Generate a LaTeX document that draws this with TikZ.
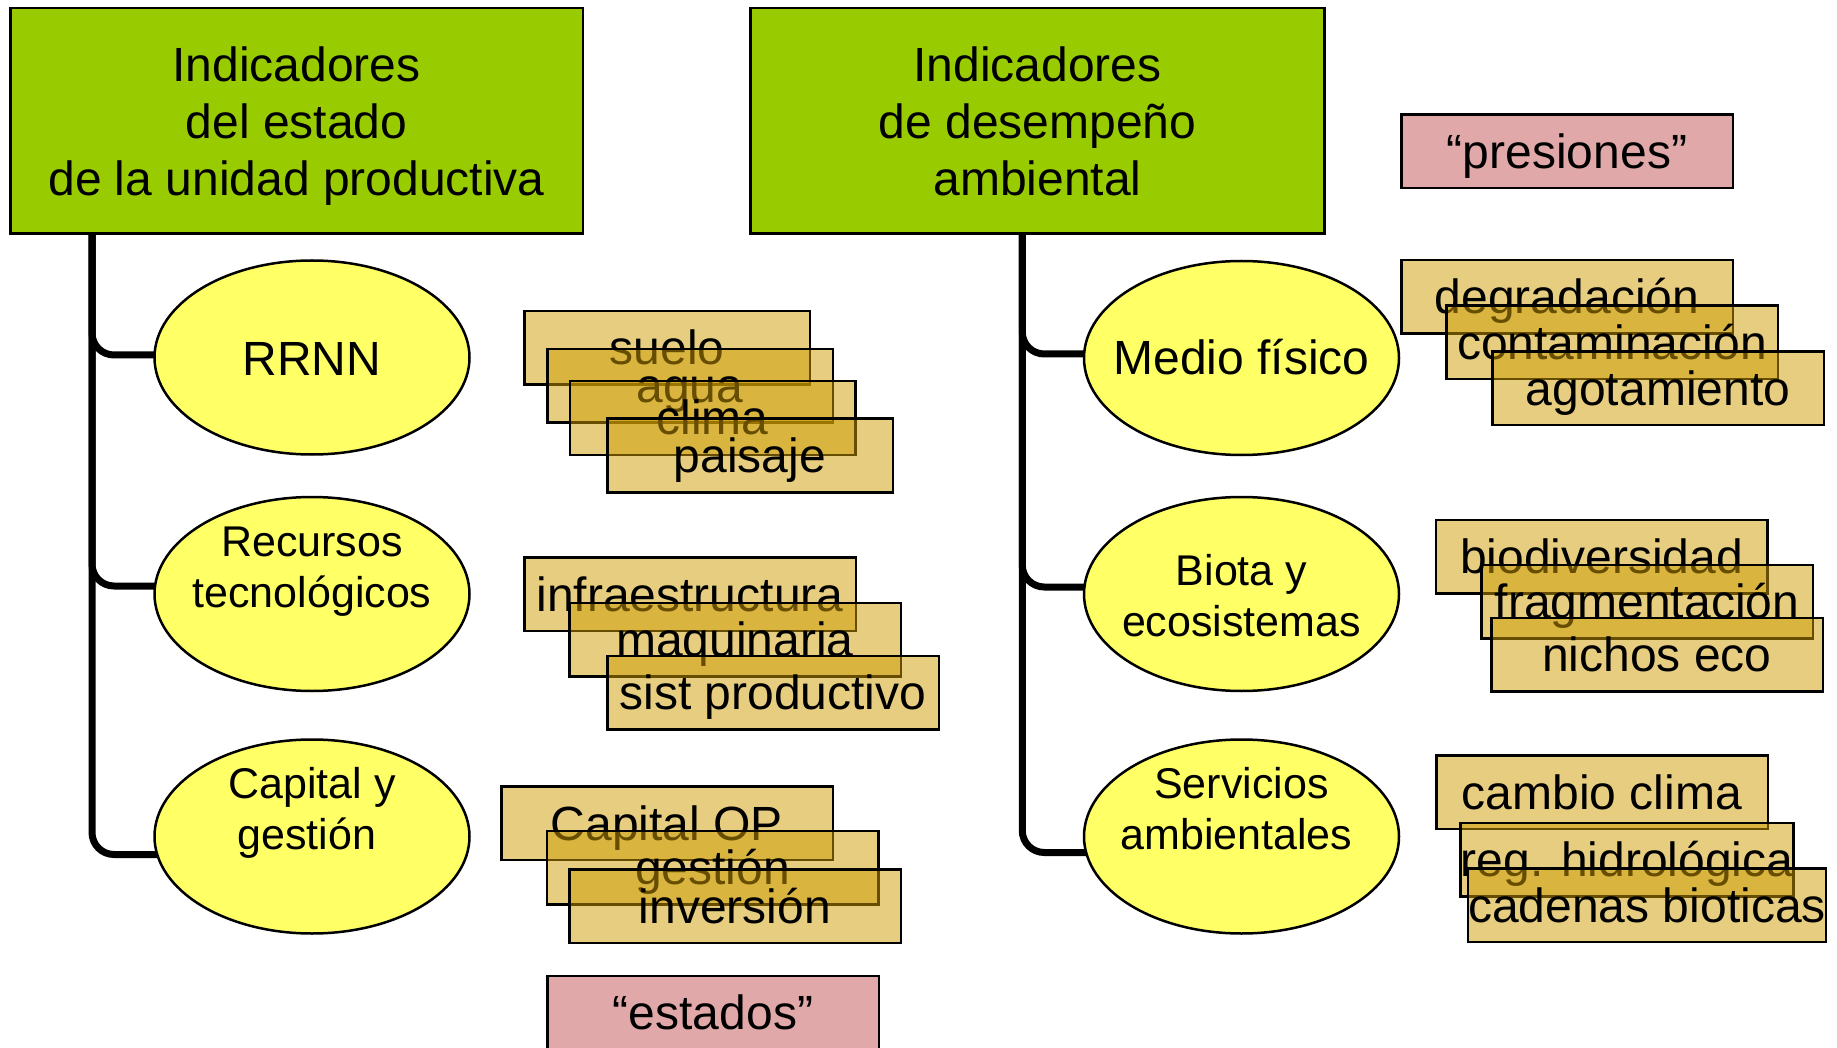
\documentclass[tikz,border=0pt]{standalone}
\usepackage{fontspec}
\setmainfont{Liberation Sans}
\usetikzlibrary{shapes.geometric,calc}
\definecolor{hdrgreen}{HTML}{99CC00}
\definecolor{ellyellow}{HTML}{FFFF66}
\definecolor{pinkbox}{HTML}{E0A8A8}
\definecolor{goldfill}{RGB}{205,155,0}
\pgfdeclarelayer{bg}
\pgfsetlayers{bg,main}
\tikzset{
  txtbig/.style={font=\fontsize{48}{57}\selectfont},
  txtsmall/.style={font=\fontsize{43}{51}\selectfont},
  hdrbox/.style={rectangle, draw=black, line width=2.5pt, fill=hdrgreen, inner sep=0pt},
  hdrtxt/.style={txtbig, inner sep=0pt, anchor=base},
  ellnode/.style={ellipse, draw=black, line width=2.5pt, fill=ellyellow, inner sep=0pt,
    minimum width=315pt, minimum height=194pt},
  elltxt/.style={txtsmall, inner sep=0pt, anchor=base},
  ellbigtxt/.style={txtbig, inner sep=0pt, anchor=base},
  tbox/.style={rectangle, draw=black, line width=2.5pt, fill=goldfill, fill opacity=0.5,
    draw opacity=1, text opacity=1, txtbig, text height=34pt, text depth=0pt,
    inner sep=0pt, minimum height=73.5pt},
  narrowbox/.style={tbox, minimum width=285.5pt},
  widebox/.style={tbox, minimum width=331.5pt},
  pbox/.style={rectangle, draw=black, line width=2.5pt, fill=pinkbox, txtbig,
    text height=34pt, text depth=0pt, inner sep=0pt, minimum height=73.5pt, minimum width=331.5pt},
  conn/.style={draw=black, line width=7pt, rounded corners=22pt}
}
\begin{document}
\begin{tikzpicture}[x=1pt,y=-1pt]
\useasboundingbox (0,0) rectangle (1837,1048);
\clip (0,0) rectangle (1837,1048);

% header boxes
\node[hdrbox, minimum width=572.5pt, minimum height=225.5pt] (lg) at (296.5,121) {};
\node[hdrtxt] (lgA) at (296.5,82) {Indicadores};
\node[hdrtxt] (lgB) at (296.5,138.5) {del estado};
\node[hdrtxt] (lgC) at (296.5,196) {de la unidad productiva};

\node[hdrbox, minimum width=574pt, minimum height=225.5pt] (rg) at (1037.5,121) {};
\node[hdrtxt] (rgA) at (1037.5,82) {Indicadores};
\node[hdrtxt] (rgB) at (1037.5,138.5) {de desempeño};
\node[hdrtxt] (rgC) at (1037.5,196) {ambiental};

% ellipses
\node[ellnode] (rrnn) at (312,357.5) {};
\node[ellbigtxt] (rrnnT) at ($(rrnn.center)+(0,18)$) {RRNN};
\node[ellnode] (rec) at (312,594) {};
\node[elltxt] (recA) at ($(rec.center)+(0,-38)$) {Recursos};
\node[elltxt] (recB) at ($(rec.center)+(0,13)$) {tecnológicos};
\node[ellnode] (cap) at (312,836.5) {};
\node[elltxt] (capA) at ($(cap.center)+(0,-38)$) {Capital y};
\node[elltxt] (capB) at ($(cap.center)+(-5,13)$) {gestión};

\node[ellnode] (med) at (1241.5,358) {};
\node[ellbigtxt] (medT) at ($(med.center)+(0,17)$) {Medio físico};
\node[ellnode] (bio) at (1241.5,594) {};
\node[elltxt] (bioA) at ($(bio.center)+(0,-9)$) {Biota y};
\node[elltxt] (bioB) at ($(bio.center)+(0,42)$) {ecosistemas};
\node[ellnode] (ser) at (1241.5,836.5) {};
\node[elltxt] (serA) at ($(ser.center)+(0,-38)$) {Servicios};
\node[elltxt] (serB) at ($(ser.center)+(-5,13)$) {ambientales};

% connectors
\begin{pgfonlayer}{bg}
\coordinate (tl) at ($(lg.south west)+(83,0)$);
\coordinate (tr) at ($(rg.south west)+(273,0)$);
\draw[conn] (tl) |- ($(rrnn.west)+(10,-2.5)$);
\draw[conn] (tl) |- ($(rec.west)+(10,-8)$);
\draw[conn] (tl) |- ($(cap.west)+(10,18)$);
\draw[conn] (tr) |- ($(med.west)+(10,-4)$);
\draw[conn] (tr) |- ($(bio.west)+(10,-7)$);
\draw[conn] (tr) |- ($(ser.west)+(10,16)$);
\end{pgfonlayer}

% left stacked boxes
\node[narrowbox] (suelo) at (667,348) {suelo};
\node[narrowbox] (agua) at (690,386) {agua};
\node[narrowbox] (clima) at (712.5,418) {clima};
\node[narrowbox] (paisaje) at (750,455.5) {paisaje};

\node[widebox] (infra) at (690,594) {infraestructura};
\node[widebox] (maq) at (735,639.5) {maquinaria};
\node[widebox] (sist) at (773,692.5) {sist productivo};

\node[widebox] (capop) at (667,823) {Capital OP};
\node[widebox] (gest) at (712.5,867.5) {gestión};
\node[widebox] (inv) at (735,906) {inversión};

\node[pbox] (estados) at (713,1012.5) {“estados”};

% right stacked boxes
\node[pbox] (presiones) at (1567,151.5) {“presiones”};

\node[widebox] (degr) at (1567,297) {degradación};
\node[widebox] (cont) at (1612,342.5) {contaminación};
\node[widebox] (agot) at (1658,388.5) {agotamiento};

\node[widebox] (biod) at (1601.5,556.5) {biodiversidad};
\node[widebox] (frag) at (1647,601.5) {fragmentación};
\node[widebox] (nich) at (1657,654.5) {nichos eco};

\node[widebox] (camb) at (1602,792) {cambio clima};
\node[widebox] (reg) at (1627,859.5) {reg. hidrológica};
\node[widebox] (cad) at (1647,905) {cadenas bioticas};
\end{tikzpicture}
\end{document}
